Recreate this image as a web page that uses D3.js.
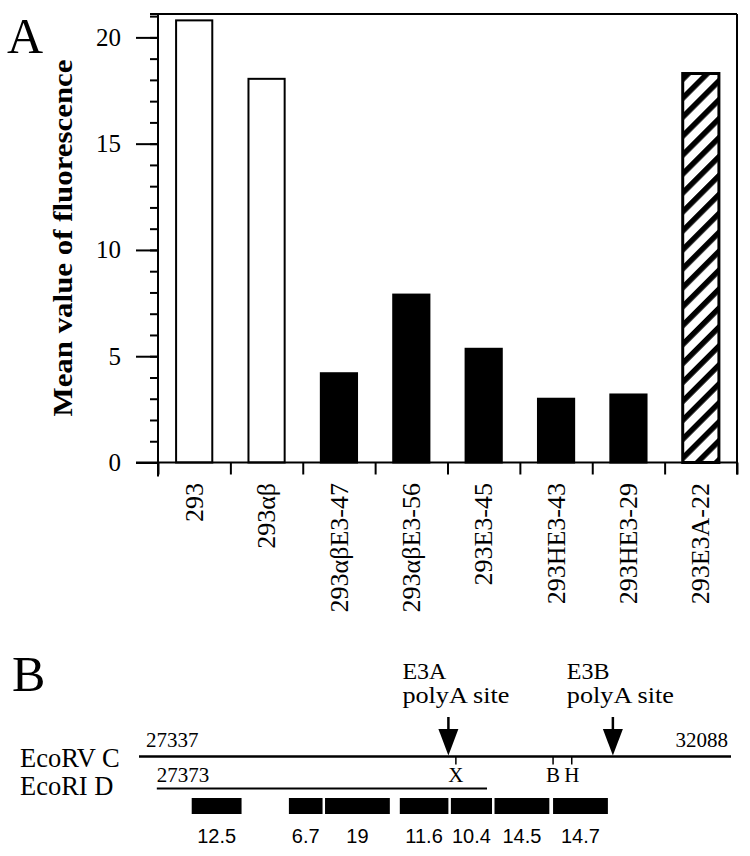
<!DOCTYPE html>
<html>
<head>
<meta charset="utf-8">
<script src="https://cdn.jsdelivr.net/npm/d3@7"></script>
<style>
  body { margin: 0; background: #fff; }
  svg { display: block; }
  .serif { font-family: "Liberation Serif", "Times New Roman", serif; }
  .sans { font-family: "Liberation Sans", Arial, sans-serif; }
</style>
</head>
<body>
<script>
// panel A data
var categories = ["293", "293αβ", "293αβE3-47", "293αβE3-56", "293E3-45", "293HE3-43", "293HE3-29", "293E3A-22"];
var values = [20.8, 18.05, 4.2, 7.9, 5.35, 3.0, 3.2, 18.3];
var barKinds = ["open", "open", "solid", "solid", "solid", "solid", "solid", "hatched"];
var yMajorTicks = [0, 5, 10, 15, 20];
var yMinorTicks = d3.range(0, 22, 1);

// panel B data (positions in bp)
var ecoRVEnds = [27337, 32088];
var ecoRIDrawn = [27480, 30130];
var ecoRILabel = "27373";
var probeStarts = [27760, 28540, 28830, 29430, 29840, 30190, 30660];
var probeEnds = [28160, 28810, 29350, 29820, 30170, 30630, 31100];
var probeLabels = ["12.5", "6.7", "19", "11.6", "10.4", "14.5", "14.7"];
var siteNames = ["X", "B", "H"];
var sitePos = [29880, 30660, 30810];
var polyANames = ["E3A", "E3B"];
var polyAPos = [29820, 31140];

var svg = d3.select("body").append("svg").attr("width", 750).attr("height", 856);
svg.append("rect").attr("width", 750).attr("height", 856).attr("fill", "#fff");

// hatch for the last bar
var defs = svg.append("defs");
defs.append("pattern")
    .attr("id", "hatch")
    .attr("patternUnits", "userSpaceOnUse")
    .attr("width", 13.4).attr("height", 13.4)
    .attr("patternTransform", "rotate(45)")
  .append("rect")
    .attr("x", 0).attr("y", 0).attr("width", 5.5).attr("height", 13.4)
    .attr("fill", "#000");

// ---------- panel A ----------
var plotL = 158, plotR = 737, plotT = 14, plotB = 462.5;

var x = d3.scaleBand().domain(categories).range([plotL, plotR]).paddingInner(0.5).paddingOuter(0.25);
var y = d3.scaleLinear().domain([0, 21.1]).range([plotB, plotT]);
var xEdge = d3.scaleLinear().domain([0, categories.length]).range([plotL, plotR]);

var gA = svg.append("g");

// frame top
gA.append("line").attr("x1", plotL - 8).attr("x2", plotR).attr("y1", plotT).attr("y2", plotT)
  .attr("stroke", "#000").attr("stroke-width", 2);

// bars
gA.selectAll("rect.bar")
  .data(values)
  .enter()
  .append("rect")
  .attr("class", "bar")
  .attr("x", function(d, i) { return x(categories[i]); })
  .attr("width", x.bandwidth())
  .attr("y", function(d) { return y(d); })
  .attr("height", function(d) { return y(0) - y(d); })
  .attr("fill", function(d, i) {
      if (barKinds[i] == "open") return "#fff";
      if (barKinds[i] == "hatched") return "url(#hatch)";
      return "#000";
  })
  .attr("stroke", "#000")
  .attr("stroke-width", function(d, i) { return barKinds[i] == "hatched" ? 3 : 2; });

// y axis, major + minor ticks
var yMajor = d3.axisLeft(y).tickValues(yMajorTicks).tickSize(22).tickPadding(15);
var yMinor = d3.axisLeft(y).tickValues(yMinorTicks).tickSize(8).tickFormat("");

var gMinor = gA.append("g").attr("transform", "translate(" + plotL + ",0)").call(yMinor);
var gMajor = gA.append("g").attr("transform", "translate(" + plotL + ",0)").call(yMajor);
[gMinor, gMajor].forEach(function(g) {
  g.select(".domain").remove();
  g.selectAll(".tick line").attr("stroke", "#000").attr("stroke-width", 2);
});
gMajor.selectAll(".tick text")
  .attr("class", "serif")
  .attr("font-size", 25)
  .attr("fill", "#000");

// left axis line (runs past zero)
gA.append("line").attr("x1", plotL).attr("x2", plotL).attr("y1", plotT).attr("y2", plotB + 14)
  .attr("stroke", "#000").attr("stroke-width", 2);

// x axis: ticks at the band edges
var xAxis = d3.axisBottom(xEdge).tickValues(d3.range(0, categories.length + 1)).tickSize(12).tickFormat("");
var gx = gA.append("g").attr("transform", "translate(0," + plotB + ")").call(xAxis);
gx.select(".domain").remove();
gx.selectAll(".tick line").attr("stroke", "#000").attr("stroke-width", 2);
gA.append("line").attr("x1", plotL - 22).attr("x2", plotR).attr("y1", plotB).attr("y2", plotB)
  .attr("stroke", "#000").attr("stroke-width", 2);
gA.append("line").attr("x1", plotR).attr("x2", plotR).attr("y1", plotT).attr("y2", plotB + 12)
  .attr("stroke", "#000").attr("stroke-width", 2);

// category labels
gA.selectAll("text.cat")
  .data(categories)
  .enter()
  .append("text")
  .attr("class", "cat serif")
  .attr("transform", function(d) { return "translate(" + (x(d) + x.bandwidth() / 2) + ",483) rotate(-90)"; })
  .attr("dy", "0.33em")
  .attr("text-anchor", "end")
  .attr("font-size", 26)
  .text(function(d) { return d; });

// y title
gA.append("text")
  .attr("class", "serif")
  .attr("transform", "translate(62,238) rotate(-90)")
  .attr("dy", "0.35em")
  .attr("text-anchor", "middle")
  .attr("font-size", 28)
  .attr("font-weight", "bold")
  .attr("textLength", 357)
  .attr("lengthAdjust", "spacingAndGlyphs")
  .text("Mean value of fluorescence");

gA.append("text").attr("class", "serif").attr("x", 7).attr("y", 53).attr("font-size", 50).text("A");

// ---------- panel B ----------
var m = d3.scaleLinear().domain(ecoRVEnds).range([139, 731]);
var lineRV = 756.5, lineRI = 788.5, boxTop = 798, boxH = 16;

var gB = svg.append("g");
gB.append("text").attr("class", "serif").attr("x", 12).attr("y", 691).attr("font-size", 50).text("B");

gB.append("text").attr("class", "serif").attr("x", 20).attr("y", 766.5).attr("font-size", 26.5).text("EcoRV C");
gB.append("text").attr("class", "serif").attr("x", 20).attr("y", 795).attr("font-size", 26.5).text("EcoRI D");

gB.append("line").attr("x1", m(ecoRVEnds[0])).attr("x2", m(ecoRVEnds[1])).attr("y1", lineRV).attr("y2", lineRV)
  .attr("stroke", "#000").attr("stroke-width", 2.5);
gB.append("line").attr("x1", m(ecoRIDrawn[0])).attr("x2", m(ecoRIDrawn[1])).attr("y1", lineRI).attr("y2", lineRI)
  .attr("stroke", "#000").attr("stroke-width", 2);

gB.append("text").attr("class", "serif").attr("x", 146).attr("y", 746.5).attr("font-size", 21).text(ecoRVEnds[0]);
gB.append("text").attr("class", "serif").attr("x", 728).attr("y", 746.5).attr("text-anchor", "end").attr("font-size", 21).text(ecoRVEnds[1]);
gB.append("text").attr("class", "serif").attr("x", m(ecoRIDrawn[0])).attr("y", 781.5).attr("font-size", 21).text(ecoRILabel);

// restriction sites
gB.selectAll("line.site").data(sitePos).enter().append("line")
  .attr("x1", function(d) { return m(d); }).attr("x2", function(d) { return m(d); })
  .attr("y1", lineRV).attr("y2", lineRV + 8)
  .attr("stroke", "#000").attr("stroke-width", 1.5);
gB.selectAll("text.site").data(sitePos).enter().append("text")
  .attr("class", "serif")
  .attr("x", function(d) { return m(d); }).attr("y", 781.5)
  .attr("text-anchor", "middle").attr("font-size", 21)
  .text(function(d, i) { return siteNames[i]; });

// polyA arrows
polyAPos.forEach(function(p, i) {
  var cx = m(p);
  gB.append("line").attr("x1", cx).attr("x2", cx).attr("y1", 717).attr("y2", 731)
    .attr("stroke", "#000").attr("stroke-width", 2.5);
  gB.append("path").attr("d", "M" + (cx - 10) + ",729 L" + (cx + 10) + ",729 L" + cx + "," + (lineRV - 1) + "Z")
    .attr("fill", "#000");
  var tx = cx - 46;
  gB.append("text").attr("class", "serif").attr("x", tx).attr("y", 679).attr("font-size", 24).text(polyANames[i]);
  gB.append("text").attr("class", "serif").attr("x", tx).attr("y", 703).attr("font-size", 24)
    .attr("textLength", 107).attr("lengthAdjust", "spacingAndGlyphs").text("polyA site");
});

// probe boxes
gB.selectAll("rect.probe").data(probeStarts).enter().append("rect")
  .attr("x", function(d) { return m(d); })
  .attr("width", function(d, i) { return m(probeEnds[i]) - m(d); })
  .attr("y", boxTop).attr("height", boxH)
  .attr("fill", "#000");
gB.selectAll("text.probe").data(probeLabels).enter().append("text")
  .attr("class", "sans")
  .attr("x", function(d, i) { return (m(probeStarts[i]) + m(probeEnds[i])) / 2; })
  .attr("y", 843)
  .attr("text-anchor", "middle").attr("font-size", 20)
  .text(function(d) { return d; });
</script>
</body>
</html>
